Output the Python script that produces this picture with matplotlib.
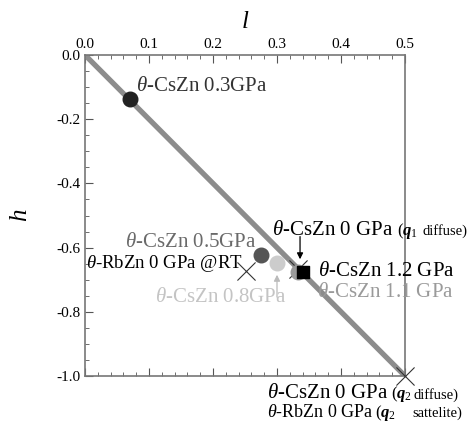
import matplotlib
matplotlib.use("Agg")
import matplotlib.pyplot as plt
from matplotlib.ticker import MultipleLocator

plt.rcParams["font.family"] = ["Liberation Serif", "DejaVu Serif"]
plt.rcParams["mathtext.fontset"] = "custom"
plt.rcParams["mathtext.it"] = "Liberation Serif:italic"
plt.rcParams["mathtext.rm"] = "Liberation Serif"
plt.rcParams["mathtext.bf"] = "Liberation Serif:bold:italic"

# q-vector positions (l, h)
circle_l = [0.070, 0.275, 0.300, 0.333]
circle_h = [-0.137, -0.623, -0.647, -0.675]
circle_colors = ["#222222", "#555555", "#cccccc", "#9a9a9a"]

square_l = [0.340]
square_h = [-0.675]

cross_l = [0.251, 0.333, 0.500]
cross_h = [-0.672, -0.667, -1.000]

line_l = [0.0, 0.5]
line_h = [0.0, -1.0]

fig = plt.figure(figsize=(4.73, 4.26), dpi=100)
ax = fig.add_axes([85 / 473, 50 / 426, 320 / 473, 321 / 426])

ax.plot(line_l, line_h, color="#8c8c8c", lw=3.8, solid_capstyle="butt", zorder=2)
ax.scatter(cross_l, cross_h, marker="x", s=170, color="#333333", linewidths=0.8, zorder=3, clip_on=False)
for l, h, c in zip(circle_l, circle_h, circle_colors):
    ax.scatter(l, h, s=110, color=c, zorder=4)
ax.scatter(square_l, square_h, marker="s", s=70, color="black", zorder=5)

ax.set_xlim(0, 0.5)
ax.set_ylim(-1.0, 0.0)
ax.xaxis.tick_top()
ax.xaxis.set_label_position("top")
ax.xaxis.set_major_locator(MultipleLocator(0.1))
ax.xaxis.set_minor_locator(MultipleLocator(0.02))
ax.yaxis.set_major_locator(MultipleLocator(0.2))
ax.yaxis.set_minor_locator(MultipleLocator(0.05))
ax.tick_params(which="both", direction="in", top=True, bottom=True, left=True, right=False,
               color="#555555", labelsize=11, pad=3)
ax.tick_params(which="major", length=6)
ax.tick_params(which="minor", length=3)
ax.set_xticks([0.0, 0.1, 0.2, 0.3, 0.4, 0.5])
ax.set_xticklabels(["0.0", "0.1", "0.2", "0.3", "0.4", "0.5"])
ax.set_yticks([0.0, -0.2, -0.4, -0.6, -0.8, -1.0])
ax.set_yticklabels(["0.0", "-0.2", "-0.4", "-0.6", "-0.8", "-1.0"])
for s in ax.spines.values():
    s.set_color("#777777")
    s.set_linewidth(1.2)

ax.set_xlabel("$l$", fontsize=18, labelpad=7)
ax.set_ylabel("$h$", fontsize=18, labelpad=18)

fs = 15
ax.text(0.080, -0.097, r"$\theta$-CsZn 0.3GPa", fontsize=fs, color="#333333", va="center")
ax.text(0.0625, -0.583, r"$\theta$-CsZn 0.5GPa", fontsize=fs, color="#6a6a6a", va="center")
ax.text(0.002, -0.648, r"$\theta$-RbZn 0 GPa @RT", fontsize=13.5, color="black", va="center", clip_on=False)
ax.text(0.109, -0.754, r"$\theta$-CsZn 0.8GPa", fontsize=fs, color="#c4c4c4", va="center")
ax.text(0.364, -0.673, r"$\theta$-CsZn 1.2 GPa", fontsize=fs, color="black", va="center", clip_on=False)
ax.text(0.3625, -0.741, r"$\theta$-CsZn 1.1 GPa", fontsize=fs, color="#9a9a9a", va="center", clip_on=False)

# q1 diffuse label (same baseline for all pieces)
ax.text(0.292, -0.561, r"$\theta$-CsZn 0 GPa", fontsize=fs, color="black", va="baseline", clip_on=False)
ax.text(0.4875, -0.561, r"($\mathbf{q}_{1}$", fontsize=12, color="black", va="baseline", clip_on=False)
ax.text(0.527, -0.561, "diffuse)", fontsize=10.5, color="black", va="baseline", clip_on=False)

# q2 labels
ax.text(0.284, -1.070, r"$\theta$-CsZn 0 GPa", fontsize=fs, color="black", va="baseline", clip_on=False)
ax.text(0.478, -1.070, r"($\mathbf{q}_{2}$", fontsize=12, color="black", va="baseline", clip_on=False)
ax.text(0.5125, -1.070, "diffuse)", fontsize=10.5, color="black", va="baseline", clip_on=False)
ax.text(0.284, -1.127, r"$\theta$-RbZn 0 GPa", fontsize=13, color="black", va="baseline", clip_on=False)
ax.text(0.453, -1.127, r"($\mathbf{q}_{2}$", fontsize=12, color="black", va="baseline", clip_on=False)
ax.text(0.511, -1.127, "sattelite)", fontsize=10.5, color="black", va="baseline", clip_on=False)

ax.annotate("", xy=(0.336, -0.645), xytext=(0.336, -0.557),
            arrowprops=dict(arrowstyle="-|>", color="black", lw=0.9, mutation_scale=9))
ax.annotate("", xy=(0.300, -0.676), xytext=(0.300, -0.763),
            arrowprops=dict(arrowstyle="-|>", color="#bbbbbb", lw=0.9, mutation_scale=9))

fig.savefig("out.png", dpi=100)
